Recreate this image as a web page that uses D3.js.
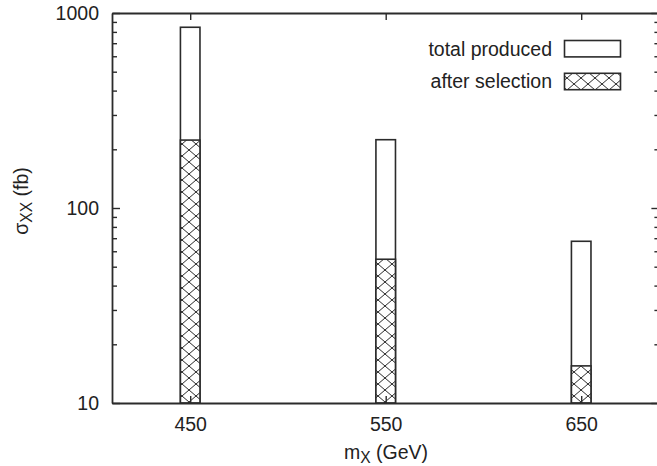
<!DOCTYPE html>
<html>
<head>
<meta charset="utf-8">
<script src="https://cdn.jsdelivr.net/npm/d3@7/dist/d3.min.js"></script>
<style>
  html, body { margin: 0; padding: 0; background: #fff; }
  svg { display: block; }
  text { font-family: "Liberation Sans", Arial, Helvetica, sans-serif; fill: #222; }
</style>
</head>
<body>
<svg id="chart" width="657" height="466"></svg>
<script>
// Production cross sections for the X pair, per mass point
const masses = [450, 550, 650];
const totalProduced = [845, 224, 67.5];
const afterSelection = [223, 54.6, 15.5];
const xTickValues = [450, 550, 650];
const yMajorTicks = [10, 100, 1000];
const yMinorTicks = [20, 30, 40, 50, 60, 70, 80, 90, 200, 300, 400, 500, 600, 700, 800, 900];
const legendLabels = ["total produced", "after selection"];

const svg = d3.select("#chart");
const ink = "#2b2b2b";
const fontSize = 19.5;

const x = d3.scaleLinear().domain([410, 690]).range([112, 659.4]);
const y = d3.scaleLog().domain([10, 1000]).range([403, 13]);
const barHalf = 5; // GeV

// cross-hatch fill
const defs = svg.append("defs");
const pat = defs.append("pattern")
  .attr("id", "xhatch")
  .attr("patternUnits", "userSpaceOnUse")
  .attr("width", 14).attr("height", 12);
pat.append("rect").attr("width", 14).attr("height", 12).attr("fill", "#fff");
pat.append("path")
  .attr("d", "M0,0 L14,12 M14,0 L0,12")
  .attr("stroke", ink).attr("stroke-width", 1).attr("fill", "none");

// bars: total (open) then selected (hatched) on top
const g = svg.append("g");
masses.forEach((m, i) => {
  g.append("rect")
    .attr("x", x(m - barHalf)).attr("width", x(m + barHalf) - x(m - barHalf))
    .attr("y", y(totalProduced[i])).attr("height", y(10) - y(totalProduced[i]))
    .attr("fill", "#fff").attr("stroke", ink).attr("stroke-width", 1.6);
  g.append("rect")
    .attr("x", x(m - barHalf)).attr("width", x(m + barHalf) - x(m - barHalf))
    .attr("y", y(afterSelection[i])).attr("height", y(10) - y(afterSelection[i]))
    .attr("fill", "url(#xhatch)").attr("stroke", ink).attr("stroke-width", 1.6);
});

// axes (ticks pointing inward, frame on all four sides)
const axisStyle = sel => {
  sel.select(".domain").attr("stroke", ink).attr("stroke-width", 1.8);
  sel.selectAll(".tick line").attr("stroke", ink).attr("stroke-width", 1.4);
  sel.selectAll("text").attr("font-size", fontSize).attr("fill", "#222")
    .attr("font-family", "Liberation Sans, Arial, sans-serif");
};

svg.append("g").attr("transform", `translate(0,${y(10)})`)
  .call(d3.axisBottom(x).tickValues(xTickValues).tickFormat(d3.format("d"))
    .tickSizeInner(-7).tickSizeOuter(0).tickPadding(14))
  .call(axisStyle);

svg.append("g").attr("transform", `translate(0,${y(1000)})`)
  .call(d3.axisTop(x).tickValues(xTickValues).tickFormat("")
    .tickSizeInner(-7).tickSizeOuter(0))
  .call(axisStyle);

svg.append("g").attr("transform", `translate(${x(410)},0)`)
  .call(d3.axisLeft(y).tickValues(yMajorTicks).tickFormat(d3.format("d"))
    .tickSizeInner(-8).tickSizeOuter(0).tickPadding(13))
  .call(axisStyle);

svg.append("g").attr("transform", `translate(${x(410)},0)`)
  .call(d3.axisLeft(y).tickValues(yMinorTicks).tickFormat("")
    .tickSizeInner(-5).tickSizeOuter(0))
  .call(axisStyle)
  .call(s => s.select(".domain").remove());

svg.append("g").attr("transform", `translate(${x(690)},0)`)
  .call(d3.axisRight(y).tickValues(yMajorTicks).tickFormat("")
    .tickSizeInner(-8).tickSizeOuter(0))
  .call(axisStyle);

svg.append("g").attr("transform", `translate(${x(690)},0)`)
  .call(d3.axisRight(y).tickValues(yMinorTicks).tickFormat("")
    .tickSizeInner(-5).tickSizeOuter(0))
  .call(axisStyle)
  .call(s => s.select(".domain").remove());

// axis titles
const xt = svg.append("text")
  .attr("x", 386).attr("y", 459).attr("text-anchor", "middle")
  .attr("font-size", fontSize);
xt.append("tspan").text("m");
xt.append("tspan").attr("baseline-shift", "-25%").attr("font-size", fontSize * 0.8).text("X");
xt.append("tspan").text(" (GeV)");

const yt = svg.append("text")
  .attr("transform", "translate(28,201) rotate(-90)")
  .attr("text-anchor", "middle").attr("font-size", fontSize);
yt.append("tspan").text("σ");
yt.append("tspan").attr("baseline-shift", "-25%").attr("font-size", fontSize * 0.8).text("XX");
yt.append("tspan").text(" (fb)");

// legend
const legendFills = ["#fff", "url(#xhatch)"];
const legendY = [48.7, 81.5];
legendLabels.forEach((label, i) => {
  svg.append("text")
    .attr("x", 552).attr("y", legendY[i]).attr("dy", "0.35em")
    .attr("text-anchor", "end").attr("font-size", fontSize).text(label);
  svg.append("rect")
    .attr("x", 564.5).attr("y", legendY[i] - 8.2).attr("width", 56).attr("height", 16.4)
    .attr("fill", legendFills[i]).attr("stroke", ink).attr("stroke-width", 1.6);
});
</script>
</body>
</html>
